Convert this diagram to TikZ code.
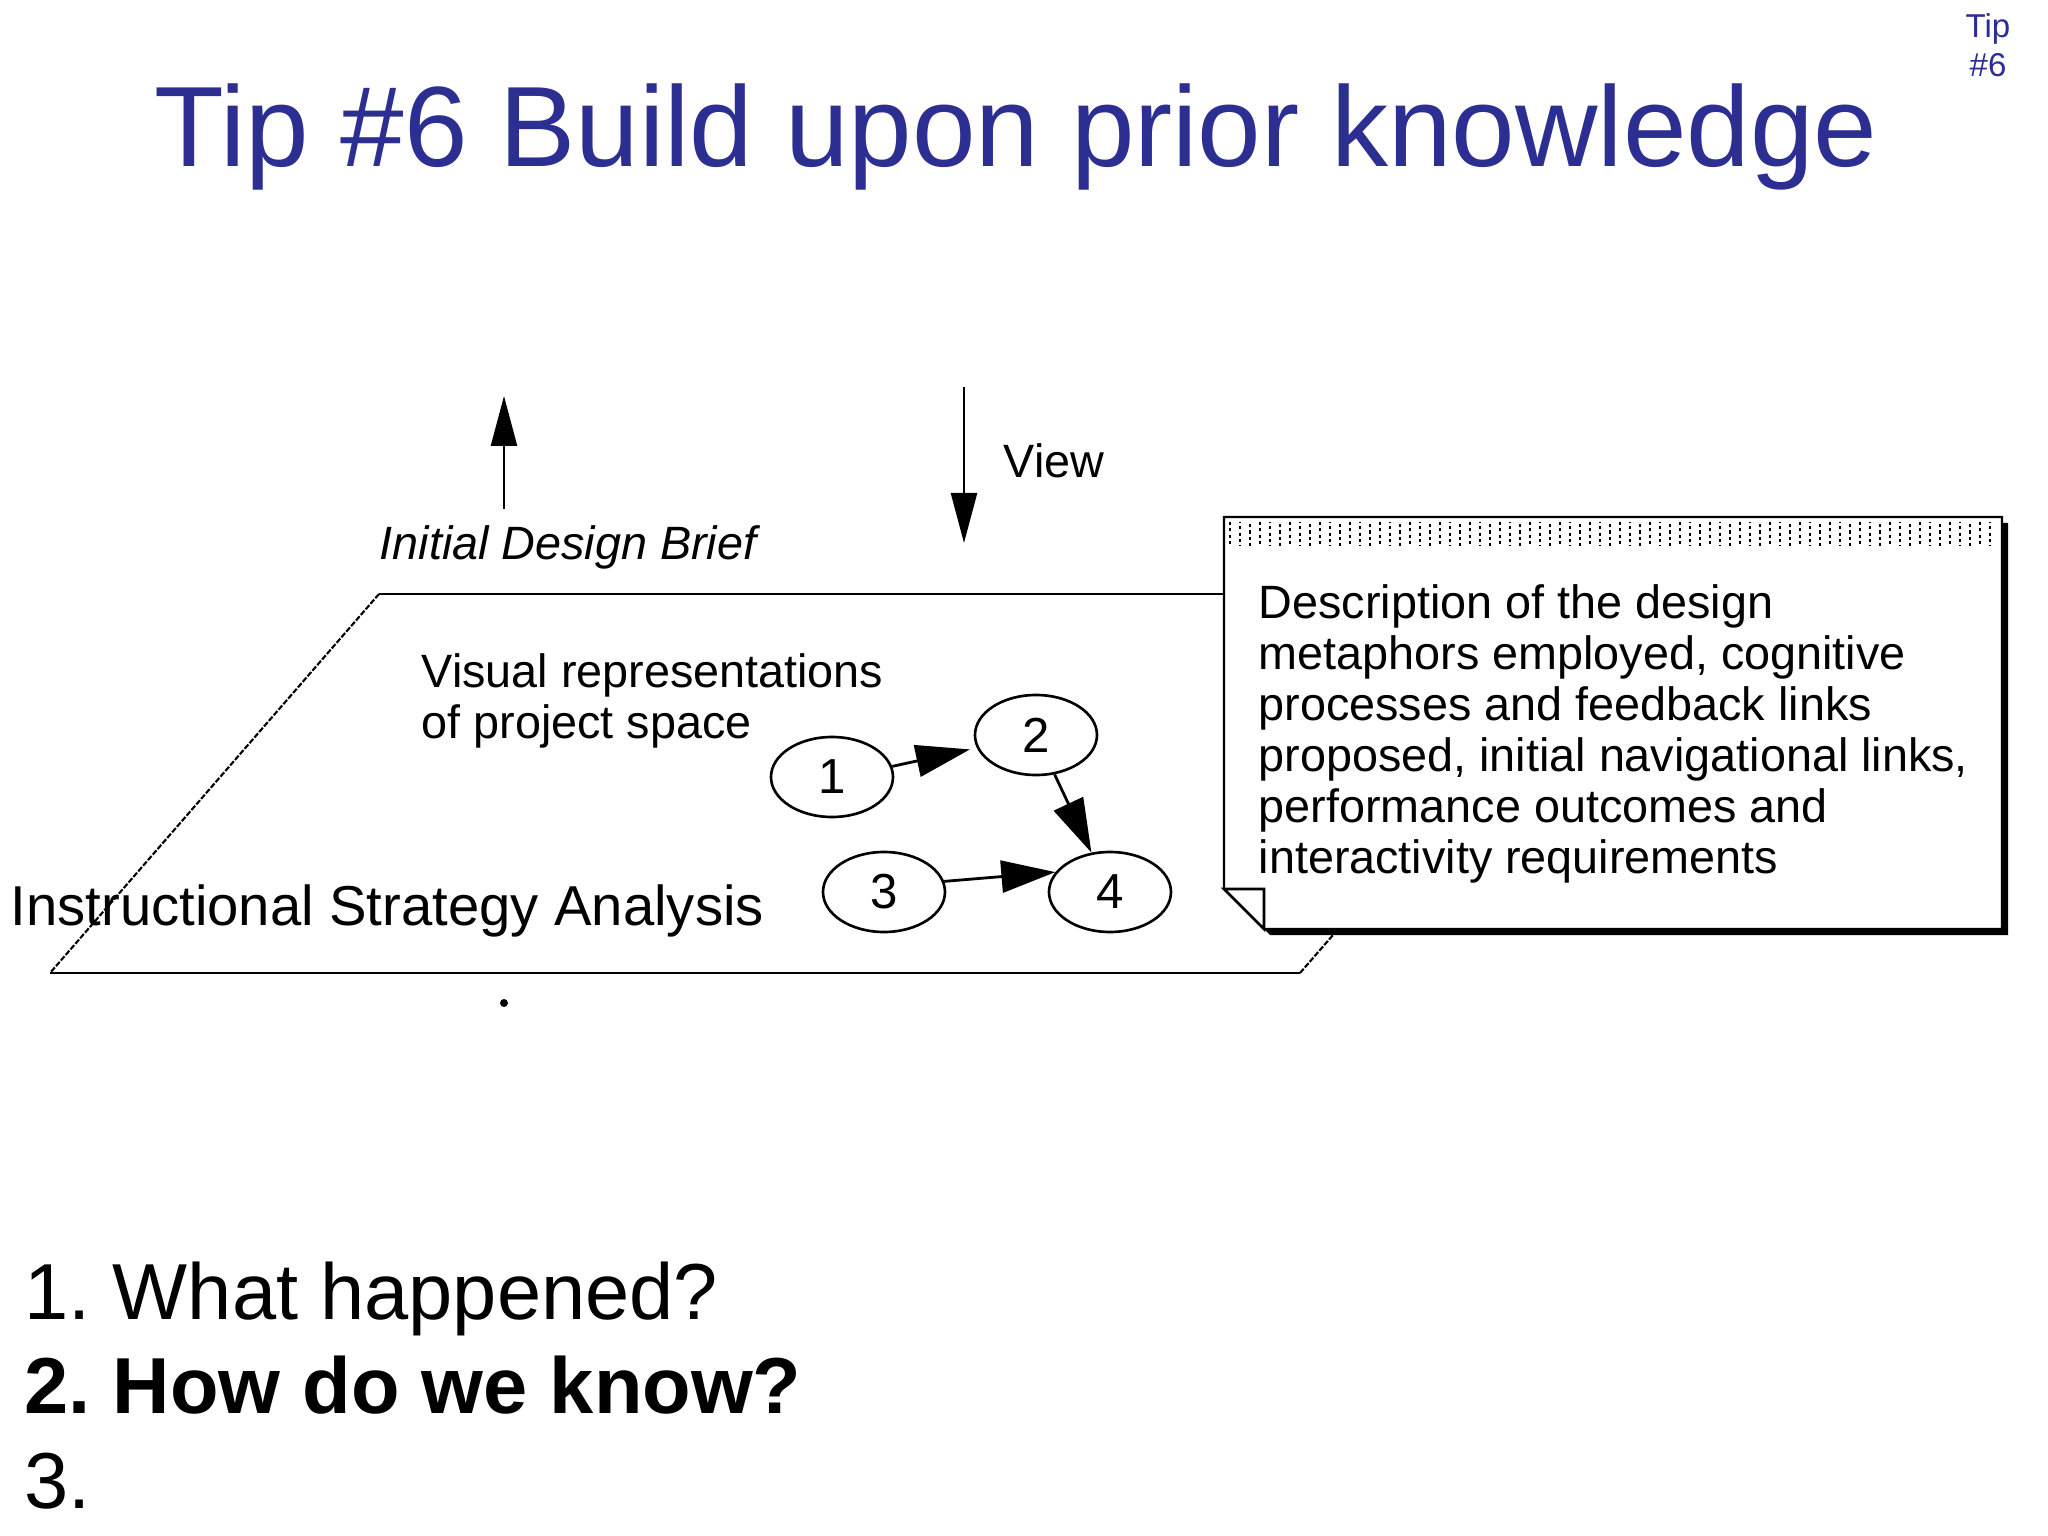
\documentclass[tikz,border=0pt]{standalone}
\usepackage{fontspec}
\setmainfont{Liberation Sans}
\usepackage{xcolor}
\usetikzlibrary{positioning,shapes.geometric,arrows.meta}
\definecolor{tipblue}{RGB}{44,47,145}
\frenchspacing

\begin{document}
\begin{tikzpicture}[node distance=2cm,on grid,auto,
    txt/.style={inner sep=0pt,font=\fontsize{13.3}{14.5}\selectfont},
    bubble/.style={ellipse,draw,line width=0.75pt,minimum width=1.22cm,minimum height=0.8cm,inner sep=0pt,font=\fontsize{14}{16}\selectfont},
    bighead/.style={-{Triangle[length=5.4mm,width=3.2mm]},line width=0.8pt},
    thinhead/.style={-{Triangle[length=5mm,width=2.6mm]},line width=0.7pt},
    quest/.style={inner sep=0pt,anchor=base west,font=\fontsize{22.6}{27}\selectfont}]
  \useasboundingbox[fill=white] (0,0) rectangle (20.48,-15.36);
  % title
  \node[inner sep=0pt,anchor=base west,text=tipblue,font=\fontsize{32.5}{38}\selectfont] (title) at (1.54,-1.67) {Tip \#6 Build upon prior knowledge};
  \node[inner sep=0pt,anchor=north,align=center,text=tipblue,font=\fontsize{9.4}{11}\selectfont] (tiptag) at (19.88,-0.13) {Tip\\\#6};
  % plane
  \coordinate (pa) at (0.50,-9.73);
  \coordinate (pb) at (13.00,-9.73);
  \coordinate (pc) at (16.29,-5.94);
  \coordinate (pd) at (3.79,-5.94);
  \draw[line width=0.7pt] (pa) -- (pb) (pc) -- (pd);
  \draw[line width=0.6pt,dash pattern=on 1.6pt off 0.5pt] (pb) -- (pc) (pd) -- (pa);
  % arrows over the plane
  \coordinate (briefbot) at (5.04,-5.09);
  \coordinate (brieftop) at (5.04,-3.96);
  \draw[thinhead] (briefbot) -- (brieftop);
  \coordinate (viewtop) at (9.64,-3.87);
  \coordinate (viewbot) at (9.64,-5.43);
  \draw[thinhead] (viewtop) -- (viewbot);
  \node[txt,anchor=base west,font=\fontsize{13.3}{14.5}\selectfont\itshape] (brief) at (3.79,-5.60) {Initial Design Brief};
  \node[txt,anchor=base west] (view) at (10.03,-4.78) {View};
  \node[txt,anchor=north west,align=left] (visual) at (4.21,-6.53) {Visual representations\\of project space};
  \node[txt,anchor=base west,font=\fontsize{16}{19}\selectfont] (isa) at (0.10,-9.25) {Instructional Strategy Analysis};
  \node[circle,fill,inner sep=0pt,minimum size=0.08cm] (dot) at (5.04,-10.03) {};
  % graph
  \node[bubble] (n1) at (8.32,-7.77) {1};
  \node[bubble,above right=0.42cm and 2.04cm of n1] (n2) {2};
  \node[bubble,below right=1.15cm and 0.52cm of n1] (n3) {3};
  \node[bubble,right=2.26cm of n3] (n4) {4};
  \path[bighead]
  (n1.10) edge[shorten >=2pt] (n2)
  (n2) edge (n4)
  (n3.10) edge (n4.160)
  ;
  % note
  \fill (12.30,-5.23) -- (20.08,-5.23) -- (20.08,-9.35) -- (12.70,-9.35) -- (12.30,-8.95) -- cycle;
  \filldraw[fill=white,line width=0.6pt] (12.24,-5.17) -- (20.02,-5.17) -- (20.02,-9.29) -- (12.64,-9.29) -- (12.24,-8.89) -- cycle;
  \foreach \i in {0,...,76}
    \draw[line width=0.6pt,dash pattern=on 0.9pt off 0.9pt,dash phase=\i*0.6pt] (12.30+\i*0.1,-5.22) -- (12.30+\i*0.1,-5.46);
  \filldraw[fill=white,line width=0.8pt] (12.24,-8.89) -- (12.64,-8.89) -- (12.64,-9.29) -- cycle;
  \node[txt,anchor=north west,align=left] (desc) at (12.58,-5.84) {Description of the design\\metaphors employed, cognitive\\processes and feedback links\\proposed, initial navigational links,\\performance outcomes and\\interactivity requirements};
  % questions
  \node[quest] (q1) at (0.24,-13.19) {1. What happened?};
  \node[quest,font=\fontsize{22.6}{27}\selectfont\bfseries] (q2) at (0.24,-14.13) {2. How do we know?};
  \node[quest] (q3) at (0.24,-15.08) {3.};
\end{tikzpicture}
\end{document}
